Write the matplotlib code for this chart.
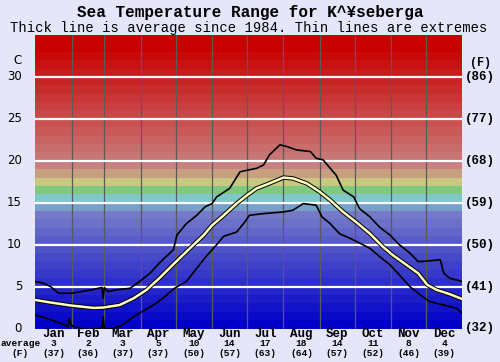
import matplotlib
matplotlib.use("Agg")
import matplotlib.pyplot as plt
import matplotlib.patheffects as pe
from matplotlib.transforms import blended_transform_factory
import numpy as np

# ---- data ----
months = ["Jan", "Feb", "Mar", "Apr", "May", "Jun", "Jul", "Aug", "Sep", "Oct", "Nov", "Dec"]
month_days = [31, 28, 31, 30, 31, 30, 31, 31, 30, 31, 30, 31]
avg_c = [3, 2, 3, 5, 10, 14, 17, 18, 14, 11, 8, 4]
avg_f = [37, 36, 37, 37, 50, 57, 63, 64, 57, 52, 46, 39]

avg_day = [0, 13, 30, 50, 58, 72, 84, 95, 106, 119, 132, 144, 151, 161, 172, 181, 189, 200,
           212, 220, 232, 243, 252, 263, 274, 286, 297, 305, 317, 327, 335, 343, 354, 365]
avg_t = [3.4, 3.1, 2.75, 2.45, 2.5, 2.8, 3.6, 4.6, 6.0, 7.8, 9.55, 11.15, 12.3, 13.5, 14.9,
         15.9, 16.7, 17.3, 18.0, 17.9, 17.3, 16.3, 15.3, 13.9, 12.7, 11.3, 9.75, 8.8, 7.6,
         6.6, 5.2, 4.6, 4.1, 3.5]

max_day = [0, 7, 13, 20, 30, 35, 48, 57, 58, 59, 62, 69, 81, 89, 98, 106, 118, 121, 129, 138,
           145, 151, 155, 166, 175, 189, 195, 200, 209, 215, 223, 235, 240, 246, 252, 257,
           263, 272, 277, 286, 294, 303, 311, 320, 327, 331, 346, 349, 354, 365]
max_t = [5.6, 5.4, 5.0, 4.2, 4.2, 4.3, 4.6, 4.9, 3.6, 4.9, 4.4, 4.6, 4.8, 5.6, 6.6, 7.8, 9.4,
         11.15, 12.5, 13.5, 14.5, 14.9, 15.7, 16.7, 18.7, 19.1, 19.5, 20.7, 21.9, 21.7, 21.3,
         21.1, 20.3, 20.1, 19.1, 18.3, 16.5, 15.7, 14.3, 13.3, 12.1, 11.15, 10.0, 9.0, 8.0,
         8.0, 8.2, 6.6, 6.0, 5.6]

min_day = [0, 10, 21, 28, 29, 30, 32, 41, 48, 57, 58, 59, 62, 72, 78, 84, 91, 101, 109, 119,
           129, 138, 146, 155, 161, 172, 179, 183, 195, 212, 220, 229, 240, 245, 252, 260,
           269, 277, 286, 294, 303, 311, 320, 329, 337, 349, 360, 365]
min_t = [1.6, 1.2, 0.65, 0.25, 1.2, 0.6, 0.25, -0.1, -0.1, 0.05, 1.4, 0.05, -0.1, 0.25, 0.8,
         1.4, 2.0, 2.8, 3.6, 4.8, 5.6, 7.2, 8.6, 10.0, 11.0, 11.5, 12.7, 13.5, 13.7, 13.9,
         14.1, 14.9, 14.7, 13.3, 12.5, 11.3, 10.75, 10.2, 9.55, 8.6, 7.6, 6.4, 5.0, 4.0, 3.2,
         2.8, 2.4, 1.8]

c_ticks = [0, 5, 10, 15, 20, 25, 30]
f_ticks = ["(32)", "(41)", "(50)", "(59)", "(68)", "(77)", "(86)"]

# ---- figure ----
W, H = 500, 362
fig = plt.figure(figsize=(W / 100, H / 100), dpi=100)
fig.patch.set_facecolor("#e6e6fa")
L, R, T, B = 35.3, 462.5, 35, 328.5
ax = fig.add_axes([L / W, 1 - B / H, (R - L) / W, (B - T) / H])
ax.set_xlim(0, 365)
ax.set_ylim(0, 35)
ax.axis("off")


def band_color(t):
    special = {14: (120, 160, 200), 15: (128, 200, 200), 16: (128, 200, 128),
               17: (200, 200, 128), 18: (200, 160, 128), 19: (200, 128, 128)}
    if t in special:
        c = special[t]
    elif t < 14:
        v = t * 8.9
        c = (v, v + t * 0.4, 200)
    else:
        v = max(0, (33 - t) * 9.0)
        c = (200, v, v)
    return tuple(x / 255 for x in c)


for t in range(35):
    ax.axhspan(t, t + 1, color=band_color(t), lw=0, zorder=0)

bounds = np.cumsum([0] + month_days)
for d in bounds[1:-1]:
    ax.axvline(d, color="#5a5a5a", lw=0.9, zorder=1)
for t in c_ticks[1:]:
    ax.axhline(t, color="white", lw=1.6, zorder=2)

ax.plot(max_day, max_t, color="black", lw=1.2, zorder=3, clip_on=True)
ax.plot(min_day, min_t, color="black", lw=1.2, zorder=3, clip_on=True)
ax.plot(avg_day, avg_t, color="#ffffc0", lw=1.8, zorder=4,
        path_effects=[pe.Stroke(linewidth=3.2, foreground="black"), pe.Normal()])

# ---- texts ----
mono = "Liberation Mono"


def fy(py):
    return 1 - py / H


fig.text(0.5, fy(12), "Sea Temperature Range for K^¥seberga", ha="center", va="center",
         family=mono, weight="bold", fontsize=11.5)
fig.text(0.497, fy(28), "Thick line is average since 1984. Thin lines are extremes",
         ha="center", va="center", family=mono, fontsize=10)

tr = blended_transform_factory(ax.transData, fig.transFigure)
for i, m in enumerate(months):
    mid = (bounds[i] + bounds[i + 1]) / 2
    ax.text(mid, fy(334), m, transform=tr, ha="center", va="center", family=mono,
            weight="bold", fontsize=9)
    ax.text(mid, fy(344), str(avg_c[i]), transform=tr, ha="center", va="center",
            family=mono, weight="bold", fontsize=6.8)
    ax.text(mid, fy(353), "(%d)" % avg_f[i], transform=tr, ha="center", va="center",
            family=mono, weight="bold", fontsize=6.8)
fig.text(21 / W, fy(344), "average", ha="center", va="center", family=mono,
         weight="bold", fontsize=6.8)
fig.text(20 / W, fy(353), "(F)", ha="center", va="center", family=mono,
         weight="bold", fontsize=6.8)

fig.text(18 / W, fy(61), "C", ha="center", va="center", family="DejaVu Sans",
         fontsize=8.5)
fig.text(481 / W, fy(63), "(F)", ha="center", va="center", family=mono,
         weight="bold", fontsize=8.5)
for t, f in zip(c_ticks, f_ticks):
    ypx = B - (B - T) * t / 35
    fig.text(22 / W, fy(ypx), str(t), ha="right", va="center", family="DejaVu Sans",
             fontsize=8.5)
    fig.text(480 / W, fy(ypx), f, ha="center", va="center", family=mono,
             weight="bold", fontsize=9)

fig.savefig("out.png", dpi=100, facecolor=fig.get_facecolor())
